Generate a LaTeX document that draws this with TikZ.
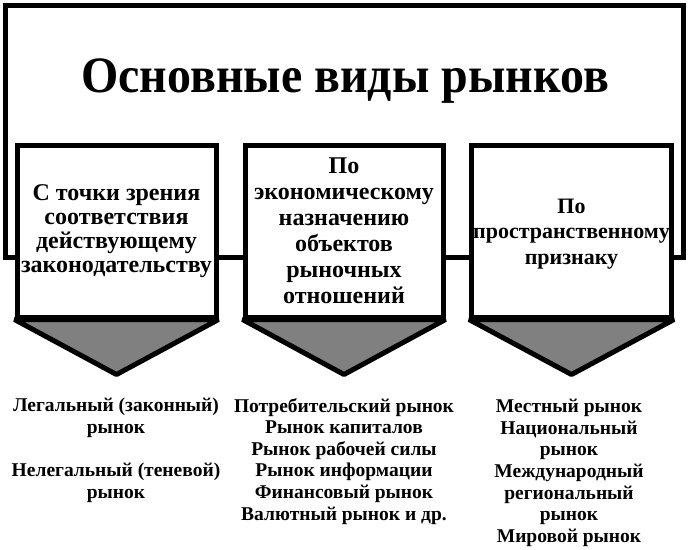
\documentclass[tikz,border=0pt]{standalone}
\usepackage{fontspec}
\setmainfont{Liberation Serif}
\usetikzlibrary{calc}
\definecolor{arrowgray}{HTML}{808080}
\begin{document}
\begin{tikzpicture}[x=1pt,y=-1pt,
  frame/.style={draw, line width=5pt, inner sep=0pt},
  catbox/.style={draw, fill=white, line width=5pt, inner sep=0pt, minimum height=172pt, align=center},
  boxfont/.style 2 args={font=\bfseries\fontsize{#1}{#2}\selectfont},
  chev/.style={draw, fill=arrowgray, line width=5pt, line join=bevel},
  item/.style={anchor=north, align=center, inner sep=0pt, font=\bfseries\fontsize{19.5}{21.6}\selectfont}]
\useasboundingbox (0,0) rectangle (688,549);
\node[frame, minimum width=678pt, minimum height=252pt, anchor=north west] (frame) at (3,3) {};
\node[anchor=base, inner sep=0pt, font=\bfseries\fontsize{51}{55}\selectfont] (title) at (345,92) {\scalebox{0.94}[1]{Основные виды рынков}};

\node[catbox, boxfont={24}{24}, minimum width=199pt] (b1) at (116.5,231) {С точки зрения\\соответствия\\действующему\\законодательству};
\node[catbox, boxfont={24}{26}, minimum width=198pt] (b2) at (344,231) {По\\экономическому\\назначению\\объектов\\рыночных\\отношений};
\node[catbox, boxfont={22}{25.5}, minimum width=200pt] (b3) at (571.5,231) {\rule{0pt}{20.5pt}По\\пространственному\\признаку};

\draw[chev] (b1.south west) -- (b1.south east) -- ($(b1.south)+(0,55)$) -- cycle;
\draw[chev] (b2.south west) -- (b2.south east) -- ($(b2.south)+(0,55)$) -- cycle;
\draw[chev] (b3.south west) -- (b3.south east) -- ($(b3.south)+(0,55)$) -- cycle;

\node[item] (l1) at (116,398) {Легальный (законный)\\рынок\\[21.6pt]Нелегальный (теневой)\\рынок};
\node[item] (l2) at (344,398) {Потребительский рынок\\Рынок капиталов\\Рынок рабочей силы\\Рынок информации\\Финансовый рынок\\Валютный рынок и др.};
\node[item] (l3) at (569,399) {Местный рынок\\Национальный\\рынок\\Международный\\региональный\\рынок\\Мировой рынок};
\end{tikzpicture}
\end{document}
